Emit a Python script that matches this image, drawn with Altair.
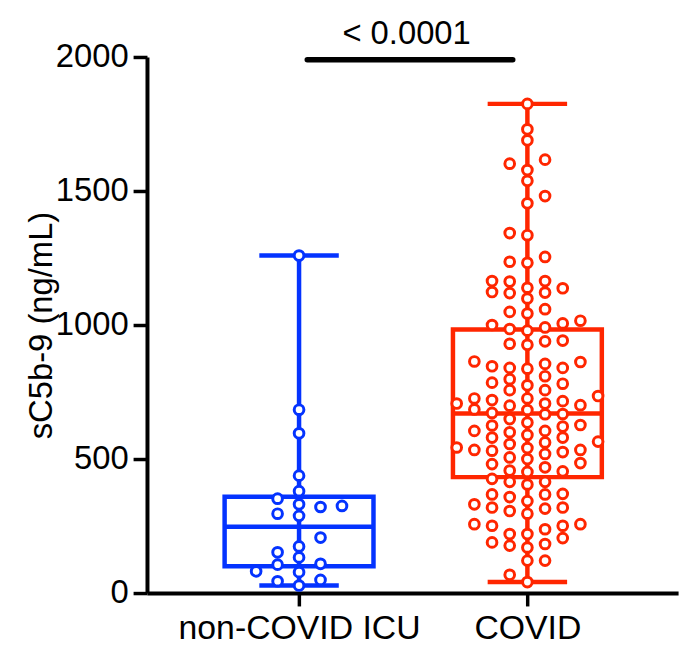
import altair as alt
import numpy as np
import pandas as pd

# ---------------- data ----------------
groups = ["non-COVID ICU", "COVID"]
colors = ["#0433FF", "#FF2600"]

non_covid_icu = [1259, 684, 596, 438, 380, 352, 325, 331, 321, 296, 288, 207, 174,
                 133, 152, 109, 106, 78, 81, 44, 49, 28]

covid = [1825, 1730, 1689, 1602, 1617, 1578, 1538, 1481, 1454, 1335, 1343, 1254,
         1236, 1232, 1162, 1164, 1164, 1137, 1139, 1099, 1119, 1123, 1121, 1043,
         1059, 1049, 1000, 991, 1006, 979, 985, 1016, 942, 926, 939, 930,
         862, 840, 855, 809, 840, 798, 837, 846, 864, 781, 757, 775, 785, 757,
         735, 726, 685, 701, 707, 668, 716, 672, 726, 683, 720, 707, 667, 699,
         636, 590, 605, 621, 600, 556, 627, 565, 649, 605, 562, 519, 625, 580,
         534, 580, 541, 534, 543, 500, 452, 531, 485, 526, 481, 506, 454, 405,
         457, 415, 469, 426, 415, 368, 319, 358, 296, 343, 257, 370, 315, 368,
         319, 331, 257, 306, 251, 251, 205, 220, 170, 183, 238, 189, 220, 177,
         121, 121, 68, 41]

y_ticks = [0, 500, 1000, 1500, 2000]
y_title = "sC5b-9 (ng/mL)"
p_label = "< 0.0001"

# ---------------- layout helpers ----------------
BOX_HALF = 0.326       # half box width (x units)
CAP_HALF = 0.174       # half whisker-cap width
SWARM_STEP = [0.094, 0.0774]
MIN_GAP = 40           # vertical gap (data units) needed within a swarm column


def swarm(values, step, gap, max_col=5):
    vals = np.asarray(values, dtype=float)
    order = np.argsort(vals, kind="stable")
    placed = {}
    offs = np.zeros(len(vals))
    for idx in order:
        v = vals[idx]
        done = False
        for j in range(0, max_col + 1):
            if j == 0:
                cands = [0]
            else:
                cands = sorted([-j, j], key=lambda c: len(placed.get(c, [])))
            for c in cands:
                if all(abs(v - u) >= gap for u in placed.get(c, [])):
                    placed.setdefault(c, []).append(v)
                    offs[idx] = c * step
                    done = True
                    break
            if done:
                break
        if not done:
            best = min(range(-max_col, max_col + 1),
                       key=lambda c: sum(1 for u in placed.get(c, []) if abs(v - u) < gap))
            placed.setdefault(best, []).append(v)
            offs[idx] = best * step
    return offs


point_rows, box_rows = [], []
for i, (g, vals) in enumerate(zip(groups, [non_covid_icu, covid])):
    center = i + 1
    offs = swarm(vals, SWARM_STEP[i], MIN_GAP)
    for v, o in zip(vals, offs):
        point_rows.append({"group": g, "x": center + o, "value": v})
    arr = np.asarray(vals, dtype=float)
    q1, med, q3 = np.percentile(arr, [25, 50, 75], method="weibull")
    box_rows.append({"group": g, "c": center, "xl": center - BOX_HALF, "xr": center + BOX_HALF,
                     "cl": center - CAP_HALF, "cr": center + CAP_HALF,
                     "q1": q1, "med": med, "q3": q3, "lo": arr.min(), "hi": arr.max()})

points = pd.DataFrame(point_rows)
boxes = pd.DataFrame(box_rows)
sig = pd.DataFrame([{"x1": 1.036, "x2": 1.936, "xm": 1.471, "y": 1990, "yt": 2049, "label": p_label}])

FONT = "Liberation Sans"
label_expr = " : ".join(
    [f"datum.value == {i + 1} ? '{g}'" for i, g in enumerate(groups[:-1])] + [f"'{groups[-1]}'"])

x_scale = alt.Scale(domain=[0.334, 2.66], nice=False, zero=False)
y_scale = alt.Scale(domain=[0, 2000], nice=False)
stroke_scale = alt.Scale(domain=groups, range=colors)

x_axis = alt.Axis(values=[1, 2], labelExpr=label_expr, title=None, grid=False,
                  labelFontSize=34, labelFont=FONT, labelColor="black", labelPadding=6,
                  labelLimit=600, labelOverlap=False,
                  tickSize=13, tickWidth=3.5, tickColor="black",
                  domainWidth=4, domainColor="black")
y_axis = alt.Axis(values=y_ticks, format="d", title=y_title, grid=False,
                  labelFontSize=33, labelFont=FONT, labelColor="black", labelPadding=5,
                  tickSize=14, tickWidth=3.5, tickColor="black",
                  domainWidth=4, domainColor="black",
                  titleFontSize=33, titleFont=FONT, titleFontWeight="normal", titleColor="black",
                  titleX=-96, titleBaseline="alphabetic")

base_box = alt.Chart(boxes)
stroke_enc = alt.Stroke("group:N", scale=stroke_scale, legend=None)

whisker = base_box.mark_rule(strokeWidth=4.5).encode(
    x=alt.X("c:Q", scale=x_scale, axis=x_axis),
    y=alt.Y("lo:Q", scale=y_scale, axis=y_axis),
    y2="hi:Q", stroke=stroke_enc)
cap_lo = base_box.mark_rule(strokeWidth=4.5).encode(
    x="cl:Q", x2="cr:Q", y="lo:Q", stroke=stroke_enc)
cap_hi = base_box.mark_rule(strokeWidth=4.5).encode(
    x="cl:Q", x2="cr:Q", y="hi:Q", stroke=stroke_enc)
box = base_box.mark_rect(fillOpacity=0, strokeWidth=4.5).encode(
    x="xl:Q", x2="xr:Q", y="q1:Q", y2="q3:Q", stroke=stroke_enc)
median = base_box.mark_rule(strokeWidth=4.5).encode(
    x="xl:Q", x2="xr:Q", y="med:Q", stroke=stroke_enc)

dots = alt.Chart(points).mark_point(shape="circle", size=95, strokeWidth=3,
                                    fill="white", fillOpacity=1, opacity=1).encode(
    x="x:Q", y="value:Q", stroke=stroke_enc)

sig_bar = alt.Chart(sig).mark_rule(strokeWidth=5.5, strokeCap="round", color="black").encode(
    x="x1:Q", x2="x2:Q", y="y:Q")
sig_text = alt.Chart(sig).mark_text(fontSize=33, font=FONT, color="black",
                                    align="center", baseline="alphabetic").encode(
    x="xm:Q", y="yt:Q", text="label:N")

chart = alt.layer(whisker, cap_lo, cap_hi, box, median, dots, sig_bar, sig_text).properties(
    width=535, height=540,
    autosize=alt.AutoSizeParams(type="none"),
    padding={"left": 140, "top": 47, "right": 12, "bottom": 50},
).configure_view(stroke=None)

chart.save("out.html", embed_options={"renderer": "svg", "actions": False})
